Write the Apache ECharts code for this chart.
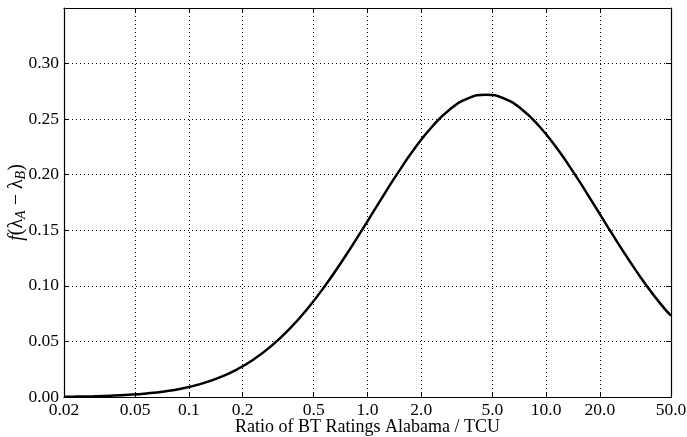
<!DOCTYPE html>
<html><head><meta charset="utf-8">
<script src="https://cdn.jsdelivr.net/npm/echarts@6/dist/echarts.min.js"></script>
<style>html,body{margin:0;padding:0;background:#fff}#c{width:687px;height:437px}</style>
</head><body><div id="c"></div>
<script>
const ratios = [0.02,0.0231,0.029,0.0365,0.046,0.0579,0.0729,0.0918,0.1155,0.1454,0.183,0.2304,0.29,0.365,0.46,0.579,0.729,0.918,1.155,1.454,1.83,2.304,2.9,3.65,4.6,5.79,7.29,9.18,11.55,14.54,18.3,23.04,29.0,36.5,46.0,50];
const density = [0.0003,0.0004,0.0007,0.0012,0.0020,0.0032,0.0050,0.0077,0.0116,0.0170,0.0242,0.0338,0.0460,0.0611,0.0792,0.1001,0.1235,0.1486,0.1745,0.1998,0.2233,0.2434,0.2589,0.2687,0.2720,0.2687,0.2589,0.2434,0.2233,0.1998,0.1745,0.1486,0.1235,0.1001,0.0795,0.0732];
const xTicks = [0.02,0.05,0.1,0.2,0.5,1.0,2.0,5.0,10.0,20.0,50.0];
const xTickLabels = ['0.02','0.05','0.1','0.2','0.5','1.0','2.0','5.0','10.0','20.0','50.0'];

const FONT = 'Liberation Serif';
const FS = 17.5;
const chart = echarts.init(document.getElementById('c'), null, {renderer:'canvas'});
const lineStyle = {color:'#000', width:1.2};
const xBase = {
  type:'log', logBase:10, min:0.02, max:50,
  axisLine:{show:true, onZero:false, lineStyle},
  axisTick:{show:true, inside:true, length:5, lineStyle:{color:'#000',width:1}, customValues:xTicks},
  minorTick:{show:false},
};
const yBase = {
  type:'value', min:0, max:0.35, interval:0.05,
  axisLine:{show:true, lineStyle},
  axisTick:{show:true, inside:true, length:5, lineStyle:{color:'#000',width:1}},
};
chart.setOption({
  animation:false,
  grid:{left:64, right:16, top:8, bottom:40, containLabel:false, outerBoundsMode:'none'},
  xAxis:[
    Object.assign({}, xBase, {
      position:'bottom',
      name:'Ratio of BT Ratings Alabama / TCU', nameLocation:'middle', nameGap:21, nameMoveOverlap:false,
      nameTextStyle:{fontFamily:FONT, fontSize:18, color:'#000'},
      axisLabel:{show:true, customValues:xTicks, color:'#000', fontFamily:FONT, fontSize:FS, margin:4,
        formatter:function(v){ const i = xTicks.findIndex(t=>Math.abs(t-v)/t<1e-6); return i>=0?xTickLabels[i]:''; }},
      splitLine:{show:true, lineStyle:{color:'#000', type:[1,3], width:1}}
    }),
    Object.assign({}, xBase, {position:'top', axisLabel:{show:false}, splitLine:{show:false}})
  ],
  yAxis:[
    Object.assign({}, yBase, {
      position:'left',
      name:'{i|f}{n|(λ}{s|A}{n| − λ}{s|B}{n|)}', nameLocation:'middle', nameGap:36, nameRotate:90, nameMoveOverlap:false,
      nameTextStyle:{rich:{
        i:{fontFamily:FONT, fontStyle:'italic', fontSize:20, color:'#000'},
        n:{fontFamily:FONT, fontSize:20, color:'#000'},
        s:{fontFamily:FONT, fontStyle:'italic', fontSize:14, color:'#000', padding:[8,0,0,0]}
      }},
      axisLabel:{color:'#000', fontFamily:FONT, fontSize:FS, margin:5,
        formatter:function(v){ return v>0.33 ? '' : v.toFixed(2); }},
      splitLine:{show:true, lineStyle:{color:'#000', type:[1,3], width:1}}
    }),
    Object.assign({}, yBase, {position:'right', axisLabel:{show:false}, splitLine:{show:false}})
  ],
  series:[{
    type:'line', xAxisIndex:0, yAxisIndex:0, smooth:true, symbol:'none',
    data: ratios.map((r,i)=>[r, density[i]]),
    lineStyle:{color:'#000', width:2.5}
  }]
});
</script></body></html>
